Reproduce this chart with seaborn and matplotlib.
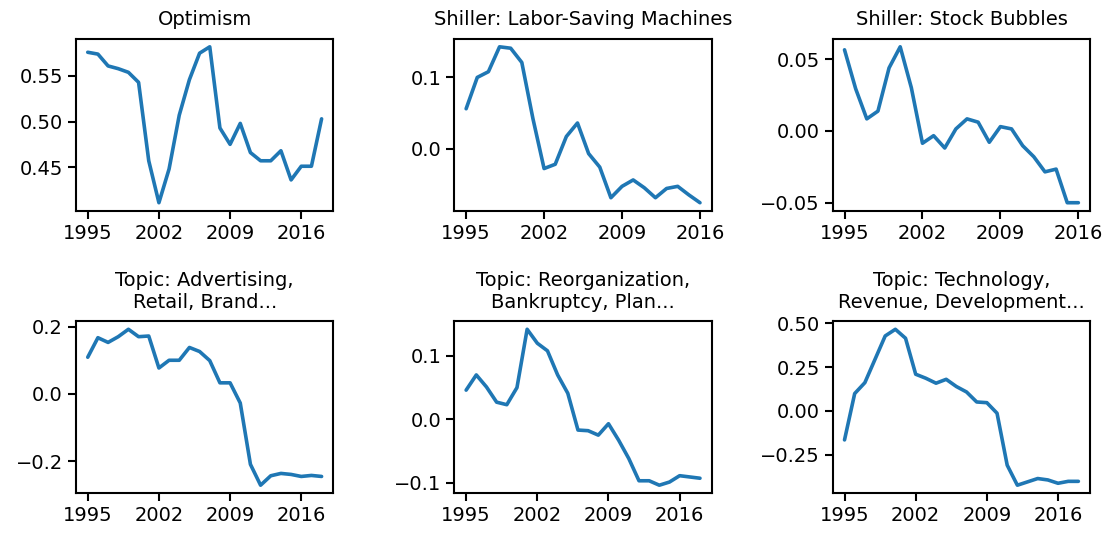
import numpy as np
import pandas as pd
import matplotlib
matplotlib.use('Agg')
import matplotlib.pyplot as plt
import seaborn as sns

sns.set_style('ticks', {'axes.edgecolor': 'black', 'text.color': 'black',
                        'xtick.color': 'black', 'ytick.color': 'black',
                        'axes.labelcolor': 'black'})
plt.rcParams['font.family'] = ['DejaVu Sans']
plt.rcParams['font.size'] = 14
plt.rcParams['axes.linewidth'] = 1.5
plt.rcParams['xtick.major.width'] = 1.5
plt.rcParams['ytick.major.width'] = 1.5
plt.rcParams['xtick.major.size'] = 6
plt.rcParams['ytick.major.size'] = 6

# ---------------------------------------------------------------------------
# data
# ---------------------------------------------------------------------------
years_long = list(range(1995, 2019))
years_short = list(range(1995, 2017))

optimism = [0.576, 0.574, 0.561, 0.558, 0.554, 0.543, 0.457, 0.411, 0.448, 0.507,
            0.546, 0.575, 0.582, 0.493, 0.475, 0.498, 0.466, 0.457, 0.457, 0.468,
            0.436, 0.451, 0.451, 0.503]

labor_saving = [0.056, 0.100, 0.108, 0.143, 0.141, 0.121, 0.042, -0.028, -0.022, 0.017,
                0.036, -0.007, -0.026, -0.069, -0.053, -0.044, -0.055, -0.069, -0.056,
                -0.053, -0.065, -0.076]

stock_bubbles = [0.0565, 0.0294, 0.0084, 0.0138, 0.0439, 0.0586, 0.0301, -0.0086, -0.0033,
                 -0.0119, 0.0014, 0.0084, 0.0061, -0.0079, 0.0030, 0.0014, -0.0103, -0.018,
                 -0.0285, -0.0266, -0.050, -0.050]

advertising = [0.109, 0.167, 0.153, 0.170, 0.192, 0.170, 0.172, 0.077, 0.100, 0.100,
               0.138, 0.126, 0.099, 0.033, 0.033, -0.027, -0.209, -0.271, -0.243, -0.236,
               -0.239, -0.245, -0.242, -0.245]

reorganization = [0.046, 0.070, 0.051, 0.027, 0.023, 0.050, 0.142, 0.120, 0.108, 0.070,
                  0.041, -0.017, -0.018, -0.025, -0.007, -0.033, -0.062, -0.097, -0.097,
                  -0.104, -0.099, -0.089, -0.091, -0.093]

technology = [-0.165, 0.099, 0.161, 0.294, 0.427, 0.465, 0.414, 0.209, 0.186, 0.158,
              0.180, 0.139, 0.108, 0.051, 0.047, -0.013, -0.309, -0.423, -0.404, -0.385,
              -0.393, -0.412, -0.401, -0.401]

titles = ['Optimism', 'Shiller: Labor-Saving Machines', 'Shiller: Stock Bubbles',
          'Topic: Advertising,\nRetail, Brand...', 'Topic: Reorganization,\nBankruptcy, Plan...',
          'Topic: Technology,\nRevenue, Development...']
series = [(years_long, optimism), (years_short, labor_saving), (years_short, stock_bubbles),
          (years_long, advertising), (years_long, reorganization), (years_long, technology)]
yticks = [[0.45, 0.50, 0.55], [0.0, 0.1], [-0.05, 0.00, 0.05],
          [-0.2, 0.0, 0.2], [-0.1, 0.0, 0.1], [-0.25, 0.00, 0.25, 0.50]]
yfmt = ['%.2f', '%.1f', '%.2f', '%.1f', '%.1f', '%.2f']
xticks = [1995, 2002, 2009, 2016]

fig, axes = plt.subplots(2, 3, figsize=(11.07, 5.35), dpi=100)
plt.subplots_adjust(left=0.0687, right=0.9847, bottom=0.0785, top=0.9271,
                    wspace=0.471, hspace=0.647)

for ax, title, (yrs, vals), yt, fmt in zip(axes.flat, titles, series, yticks, yfmt):
    df = pd.DataFrame({'year': yrs, 'value': vals})
    sns.lineplot(data=df, x='year', y='value', ax=ax, color='#1f77b4', linewidth=2.6)
    ax.set_title(title, fontsize=14, linespacing=1.15, pad=10)
    ax.set_xticks(xticks)
    ax.set_yticks(yt)
    ax.set_yticklabels([(fmt % v).replace('-', '\u2212') for v in yt])
    ax.tick_params(labelsize=14)
    ax.set_xlabel('')
    ax.set_ylabel('')

plt.savefig('out.png', dpi=100)
